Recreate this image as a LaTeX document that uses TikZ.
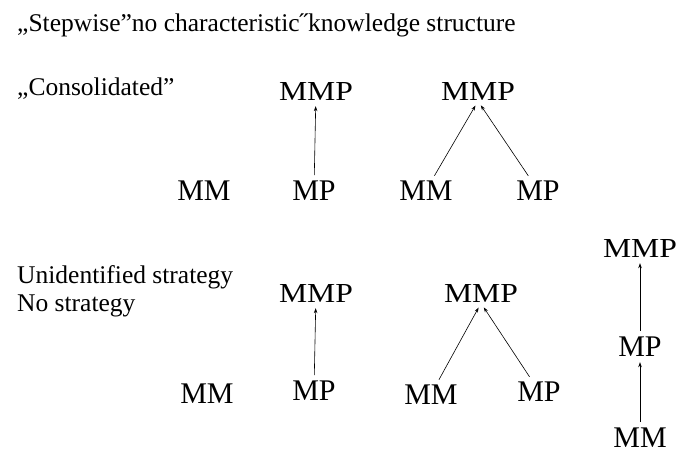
\documentclass[tikz,border=0pt]{standalone}
\usepackage{fontspec}
\setmainfont{Liberation Serif}
\newfontfamily\widefont{Liberation Serif}[FakeStretch=1.15]
\usetikzlibrary{arrows.meta}
\tikzset{
  lbl/.style={anchor=base west, inner sep=0pt, font=\fontsize{25.5}{30}\selectfont},
  term/.style={anchor=base, inner sep=1pt, font=\fontsize{30}{34}\selectfont},
  top/.style={anchor=base, inner sep=1pt, font=\widefont\fontsize{27.5}{32}\selectfont},
  up/.style={-{Stealth[length=5pt,width=3.5pt]}, line width=0.6pt, shorten >=5pt, shorten <=4pt}
}
\begin{document}
\begin{tikzpicture}[x=1pt,y=-1pt]
      \useasboundingbox (0,0) rectangle (678,453);
      \node[lbl] (title) at (17,31){„Stepwise”no characteristic˝knowledge structure};
      \node[lbl] (cons) at (17,95){„Consolidated”};
      \node[lbl] (unid) at (17,283){Unidentified strategy};
      \node[lbl] (nost) at (17,311){No strategy};
      % first row
      \node[term] (mmA) at (204,200){MM};
      \node[top] (mmpA) at (316,100){MMP};
      \node[term] (mpA) at (314,200){MP};
      \node[top] (mmpB) at (478,100){MMP};
      \node[term] (mmB) at (426,200){MM};
      \node[term] (mpB) at (538,200){MP};
      \draw[up](mpA) -- (mmpA);
      \draw[up](mmB) -- (mmpB.south);
      \draw[up](mpB) -- (mmpB.south);
      % second row
      \node[term] (mmC) at (207,403){MM};
      \node[top] (mmpC) at (316,302){MMP};
      \node[term] (mpC) at (314,400){MP};
      \node[top] (mmpD) at (481,302){MMP};
      \node[term] (mmD) at (431,404){MM};
      \node[term] (mpD) at (539,401){MP};
      \draw[up](mpC) -- (mmpC);
      \draw[up](mmD) -- (mmpD.south);
      \draw[up](mpD) -- (mmpD.south);
      % column
      \node[top] (mmpE) at (640,257){MMP};
      \node[term] (mpE) at (640,356){MP};
      \node[term] (mmE) at (640,447){MM};
      \draw[up](mpE) -- (mmpE);
      \draw[up](mmE) -- (mpE);

\end{tikzpicture}
\end{document}
